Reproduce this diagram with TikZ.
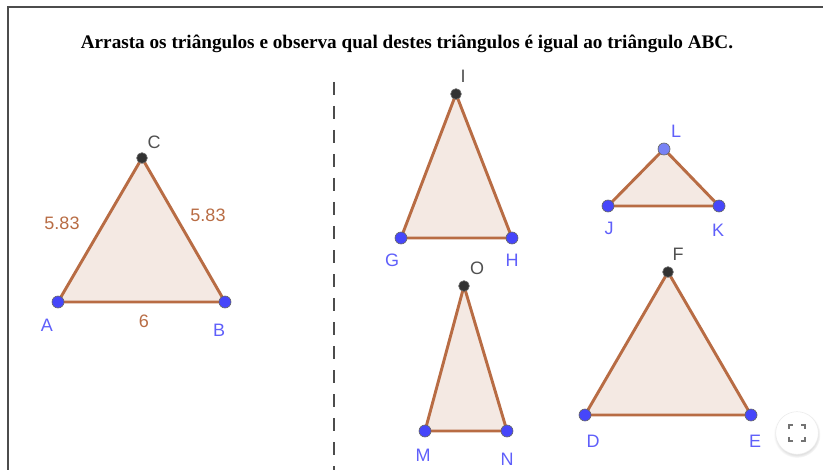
\documentclass[tikz,border=0pt]{standalone}
\usepackage{fontspec}
\setmainfont{Liberation Serif}
\setsansfont{Liberation Sans}
\usetikzlibrary{positioning, calc, backgrounds, shadows}

\definecolor{edgebrown}{RGB}{184,108,68}
\definecolor{fillbrown}{RGB}{244,233,227}
\definecolor{ptblue}{RGB}{70,70,250}
\definecolor{ptlight}{RGB}{120,130,245}
\definecolor{ptdark}{RGB}{50,50,50}
\definecolor{lblblue}{RGB}{95,95,250}
\definecolor{lblgray}{RGB}{80,80,80}

\begin{document}
\begin{tikzpicture}[
    x=0.75pt, y=-0.75pt,
    every node/.style={align=center},
    vtx/.style={circle, draw=black!60, line width=0.5pt, inner sep=0pt, minimum size=9pt},
    freept/.style={vtx, fill=ptblue},
    lightpt/.style={vtx, fill=ptlight},
    darkpt/.style={vtx, fill=ptdark, minimum size=8pt},
    tri/.style={draw=edgebrown, fill=fillbrown, line width=2.2pt, line join=round},
    lblb/.style={font=\sffamily\fontsize{13.5pt}{15pt}\selectfont, text=lblblue},
    lblg/.style={font=\sffamily\fontsize{13.5pt}{15pt}\selectfont, text=lblgray},
    lbllen/.style={font=\sffamily\fontsize{13.5pt}{15pt}\selectfont, text=edgebrown}
]
    \useasboundingbox (0,0) rectangle (823,470);

    % frame and title
    \draw[line width=1.6pt, draw=black!70] (823,7) -- (8,7) -- (8,470);
    \node[font=\bfseries\fontsize{14.4pt}{16pt}\selectfont] (title) at (407,44) {Arrasta os triângulos e observa qual destes triângulos é igual ao triângulo ABC.};
    \draw[line width=2.2pt, draw=black!70, dash pattern=on 10pt off 8pt] (334,82) -- (334,470);

    % triangle ABC
    \node[freept] (A) at (58,302) {};
    \node[freept] (B) at (225,302) {};
    \node[darkpt] (C) at (142,158) {};
    \node[lblb] at (47,325) {A};
    \node[lblb] at (219,330) {B};
    \node[lblg] at (154,142) {C};
    \node[lbllen] at (62,223) {5.83};
    \node[lbllen] at (208,215) {5.83};
    \node[lbllen] at (144,321) {6};

    % triangle GHI
    \node[freept] (G) at (401,238) {};
    \node[freept] (H) at (512,238) {};
    \node[darkpt] (I) at (456,94) {};
    \node[lblb] at (392,260) {G};
    \node[lblb] at (512,260) {H};
    \node[lblg] at (463,76) {I};

    % triangle JKL
    \node[freept] (J) at (608,206) {};
    \node[freept] (K) at (719,206) {};
    \node[lightpt] (L) at (664,149) {};
    \node[lblb] at (609,228) {J};
    \node[lblb] at (718,230) {K};
    \node[lblb] at (676,131) {L};

    % triangle MNO
    \node[freept] (M) at (425,431) {};
    \node[freept] (N) at (507,431) {};
    \node[darkpt] (O) at (464,286) {};
    \node[lblb] at (423,455) {M};
    \node[lblb] at (507,459) {N};
    \node[lblg] at (477,268) {O};

    % triangle DEF
    \node[freept] (D) at (585,415) {};
    \node[freept] (E) at (751,415) {};
    \node[darkpt] (F) at (668,272) {};
    \node[lblb] at (593,441) {D};
    \node[lblb] at (755,441) {E};
    \node[lblg] at (678,254) {F};

    \begin{scope}[on background layer]
        \filldraw[tri] (A.center) -- (B.center) -- (C.center) -- cycle;
        \filldraw[tri] (G.center) -- (H.center) -- (I.center) -- cycle;
        \filldraw[tri] (J.center) -- (K.center) -- (L.center) -- cycle;
        \filldraw[tri] (M.center) -- (N.center) -- (O.center) -- cycle;
        \filldraw[tri] (D.center) -- (E.center) -- (F.center) -- cycle;
    \end{scope}

    % fullscreen button
    \node[circle, fill=white, draw=black!8, minimum size=32pt, circular drop shadow={shadow xshift=0pt, shadow yshift=-1pt, opacity=0.25}] (fs) at (797,433) {};
    \draw[line width=1.6pt, draw=black!55] ($(fs)+(-8,-4)$) -- ++(0,-4) -- ++(4,0)
        ($(fs)+(4,-8)$) -- ++(4,0) -- ++(0,4)
        ($(fs)+(8,4)$) -- ++(0,4) -- ++(-4,0)
        ($(fs)+(-4,8)$) -- ++(-4,0) -- ++(0,-4);
\end{tikzpicture}
\end{document}
